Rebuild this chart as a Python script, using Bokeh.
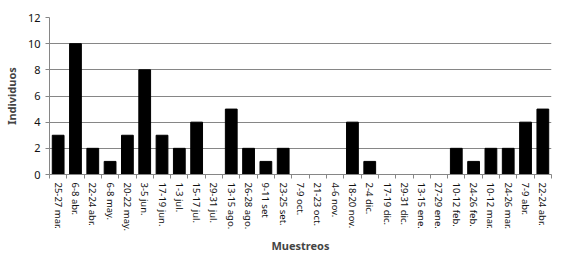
from bokeh.plotting import figure
from bokeh.models import FixedTicker, Range1d
from bokeh.embed import file_html
from bokeh.resources import INLINE

categories = ["25-27 mar.", "6-8 abr.", "22-24 abr.", "6-8 may.", "20-22 may.", "3-5 jun.",
              "17-19 jun.", "1-3 jul.", "15-17 jul.", "29-31 jul.", "13-15 ago.", "26-28 ago.",
              "9-11 set", "23-25 set.", "7-9 oct.", "21-23 oct.", "4-6 nov.", "18-20 nov.",
              "2-4 dic.", "17-19 dic.", "29-31 dic.", "13-15 ene.", "27-29 ene.", "10-12 feb.",
              "24-26 feb.", "10-12 mar.", "24-26 mar.", "7-9 abr.", "22-24 abr."]
values = [3, 10, 2, 1, 3, 8, 3, 2, 4, 0, 5, 2, 1, 2, 0, 0, 0, 4, 1, 0, 0, 0, 0, 2, 1, 2, 2, 4, 5]
y_ticks = [0, 2, 4, 6, 8, 10, 12]

n = len(categories)
xs = list(range(n))

p = figure(width=565, height=255, output_backend="svg", toolbar_location=None,
           x_range=Range1d(-0.5, n - 0.5), y_range=Range1d(0, 12),
           min_border_left=44, min_border_right=14, min_border_top=17, min_border_bottom=81)
p.outline_line_color = None
p.background_fill_color = "white"
p.border_fill_color = "white"

p.vbar(x=xs, top=values, width=0.68, fill_color="black", line_color="black")

font = "Noto Sans"
gray = "#868686"

p.xgrid.grid_line_color = None
p.ygrid.grid_line_color = gray
p.ygrid.grid_line_width = 1.2
p.ygrid.ticker = FixedTicker(ticks=y_ticks)

p.yaxis.ticker = FixedTicker(ticks=y_ticks)
p.yaxis.axis_line_color = gray
p.yaxis.major_tick_line_color = gray
p.yaxis.major_tick_out = 4
p.yaxis.major_tick_in = 0
p.yaxis.minor_tick_line_color = None
p.yaxis.major_label_text_font = font
p.yaxis.major_label_text_font_size = "11px"
p.yaxis.major_label_text_color = "#111111"
p.yaxis.axis_label = "Individuos"
p.yaxis.axis_label_text_font = font
p.yaxis.axis_label_text_font_size = "11px"
p.yaxis.axis_label_text_font_style = "bold"
p.yaxis.axis_label_standoff = 6

p.xaxis.ticker = FixedTicker(ticks=xs, minor_ticks=[i - 0.5 for i in range(n + 1)])
p.xaxis.major_label_overrides = {i: c for i, c in enumerate(categories)}
p.xaxis.major_label_orientation = "vertical"
p.xaxis.major_tick_line_color = None
p.xaxis.major_tick_out = 2
p.xaxis.major_tick_in = 0
p.xaxis.major_label_standoff = 4
p.xaxis.minor_tick_line_color = gray
p.xaxis.minor_tick_out = 4
p.xaxis.minor_tick_in = 0
p.xaxis.axis_line_color = gray
p.xaxis.major_label_text_font = font
p.xaxis.major_label_text_font_size = "9.5px"
p.xaxis.major_label_text_color = "#111111"
p.xaxis.axis_label = "Muestreos"
p.xaxis.axis_label_text_font = font
p.xaxis.axis_label_text_font_size = "11px"
p.xaxis.axis_label_text_font_style = "bold"
p.xaxis.axis_label_standoff = 4

open("out.html", "w").write(file_html(p, INLINE))
